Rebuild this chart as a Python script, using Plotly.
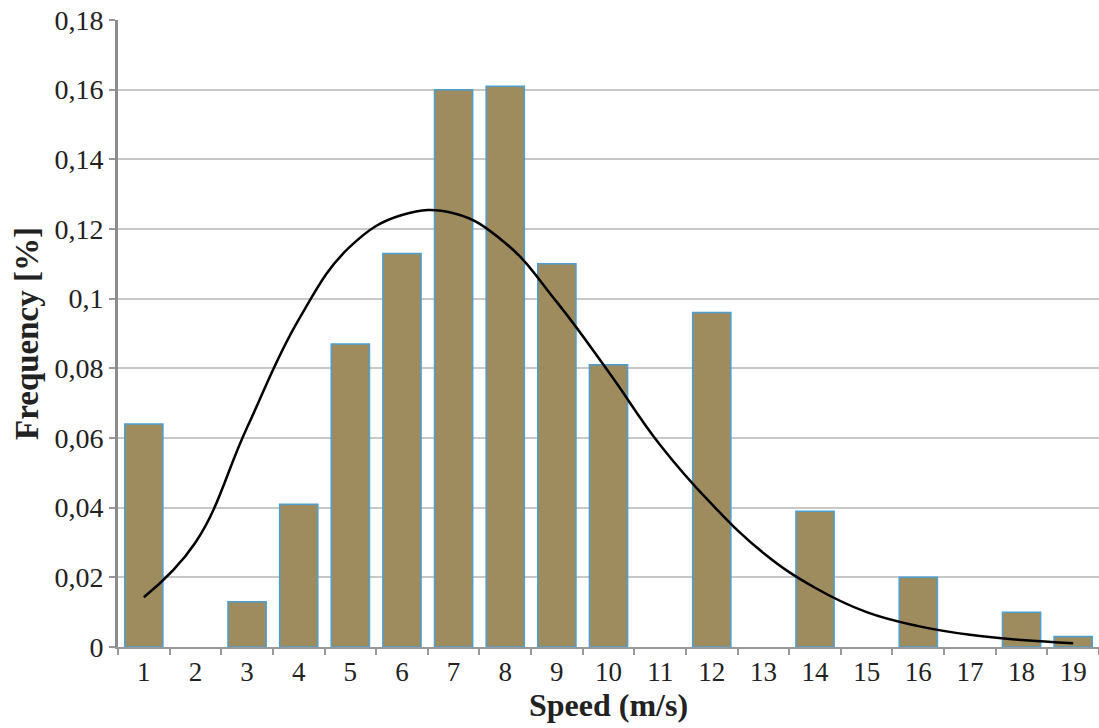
import plotly.graph_objects as go

speeds = [str(i) for i in range(1, 20)]
frequency = [0.064, 0, 0.013, 0.041, 0.087, 0.113, 0.160, 0.161, 0.110, 0.081,
             0, 0.096, 0, 0.039, 0, 0.020, 0, 0.010, 0.003]
fit_curve = [0.0143, 0.030, 0.063, 0.094, 0.115, 0.124, 0.1245, 0.116, 0.099, 0.079,
             0.058, 0.041, 0.027, 0.017, 0.010, 0.006, 0.0035, 0.002, 0.0011]
y_ticks = [0, 0.02, 0.04, 0.06, 0.08, 0.1, 0.12, 0.14, 0.16, 0.18]
y_ticktext = ["0", "0,02", "0,04", "0,06", "0,08", "0,1", "0,12", "0,14", "0,16", "0,18"]

serif = "Liberation Serif, Times New Roman, serif"

fig = go.Figure()
fig.add_trace(go.Bar(
    x=speeds,
    y=[v if v > 0 else None for v in frequency],
    marker=dict(color="#9e8c5f", line=dict(color="#4b9fd3", width=1.5)),
    width=0.74,
    showlegend=False,
))
fig.add_trace(go.Scatter(
    x=speeds, y=fit_curve, mode="lines",
    line=dict(color="black", width=2.5, shape="spline", smoothing=1.2),
    showlegend=False,
))

fig.update_layout(
    width=1099, height=728,
    margin=dict(l=118, r=0, t=20, b=81),
    plot_bgcolor="white", paper_bgcolor="white",
    font=dict(family=serif, color="#222222"),
    xaxis=dict(
        type="category",
        tickson="boundaries",
        ticks="outside", ticklen=6, tickwidth=1.5, tickcolor="#999999",
        showline=True, linecolor="#999999", linewidth=2,
        showgrid=False,
        tickfont=dict(size=27, family=serif, color="#222222"),
        title=dict(text="<b>Speed (m/s)</b>", font=dict(size=32, family=serif, color="#222222"), standoff=2),
    ),
    yaxis=dict(
        range=[0, 0.18],
        tickvals=y_ticks, ticktext=y_ticktext,
        ticks="outside", ticklen=6, tickwidth=1.5, tickcolor="#999999",
        showline=True, linecolor="#8c8c8c", linewidth=3,
        showgrid=True, gridcolor="#c8c8c8", gridwidth=2,
        zeroline=False,
        tickfont=dict(size=28, family=serif, color="#222222"),
        title=dict(text="<b>Frequency [%]</b>", font=dict(size=33, family=serif, color="#222222"), standoff=6),
    ),
)

fig.write_html("out.html")
